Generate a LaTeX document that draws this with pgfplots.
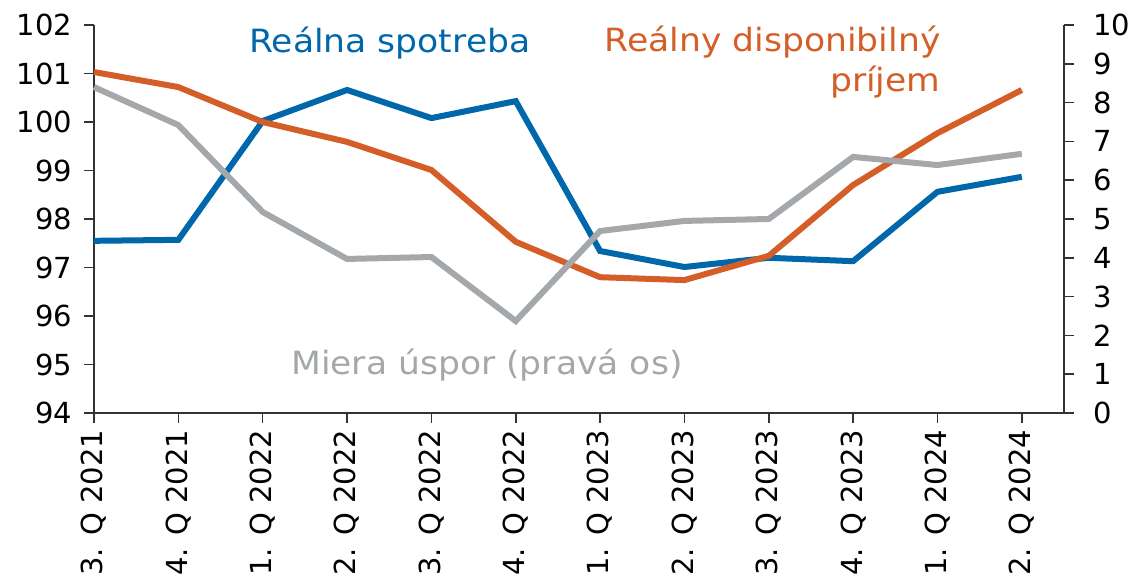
\documentclass[border=0pt]{standalone}
\usepackage{fontspec}
\setmainfont{DejaVu Sans}
\newfontfamily\wide[FakeStretch=1.08]{DejaVu Sans}
\usepackage{pgfplots}
\pgfplotsset{compat=1.18}
\definecolor{cblue}{RGB}{0,103,170}
\definecolor{corange}{RGB}{212,94,40}
\definecolor{cgray}{RGB}{164,168,171}
\definecolor{caxis}{RGB}{50,50,50}
\begin{document}
\begin{tikzpicture}
\pgfplotsset{
  common/.style={
    scale only axis, width=485pt, height=194pt,
    xmin=0, xmax=11.5,
    tick style={caxis, line width=0.8pt},
    axis line style={caxis, line width=0.8pt},
    tick align=outside,
    major tick length=5pt,
    /pgf/number format/assume math mode=true,
    ticklabel style={font=\fontsize{14.5}{16}\selectfont},
    clip=false,
  }
}
\begin{axis}[common,
  ymin=94, ymax=102, ytick={94,95,...,102},
  axis y line*=left, axis x line*=bottom,
  yticklabel style={xshift=-2.5pt},
  xtick={0,1,...,11},
  xticklabels={3. Q 2021,4. Q 2021,1. Q 2022,2. Q 2022,3. Q 2022,4. Q 2022,1. Q 2023,2. Q 2023,3. Q 2023,4. Q 2023,1. Q 2024,2. Q 2024},
  xticklabel style={rotate=90, anchor=east},
]
\addplot[cblue, line width=3pt] coordinates {
(0,97.55) (1,97.57) (2,100.02) (3,100.66) (4,100.08) (5,100.43)
(6,97.34) (7,97.01) (8,97.20) (9,97.13) (10,98.56) (11,98.87)};
\addplot[corange, line width=3pt] coordinates {
(0,101.03) (1,100.72) (2,100.0) (3,99.59) (4,99.01) (5,97.53)
(6,96.80) (7,96.74) (8,97.24) (9,98.70) (10,99.77) (11,100.66)};
\node[cblue, font=\wide\fontsize{16}{18}\selectfont] at (rel axis cs:0.305,0.954) {Reálna spotreba};
\node[corange, font=\wide\fontsize{16}{20}\selectfont, align=right, anchor=east, inner sep=0pt] at (rel axis cs:0.873,0.905) {Reálny disponibilný\\príjem};
\node[cgray, font=\wide\fontsize{16}{18}\selectfont] at (rel axis cs:0.405,0.124) {Miera úspor (pravá os)};
\end{axis}
\begin{axis}[common,
  ymin=0, ymax=10, ytick={0,1,...,10},
  axis y line*=right, axis x line=none,
  yticklabel style={xshift=6pt},
]
\addplot[cgray, line width=3pt] coordinates {
(0,8.40) (1,7.42) (2,5.18) (3,3.97) (4,4.02) (5,2.37)
(6,4.69) (7,4.95) (8,5.00) (9,6.60) (10,6.39) (11,6.68)};
\end{axis}
\pgfresetboundingbox
\useasboundingbox (-47pt,-84pt) rectangle (519pt,206.5pt);
\end{tikzpicture}
\end{document}
